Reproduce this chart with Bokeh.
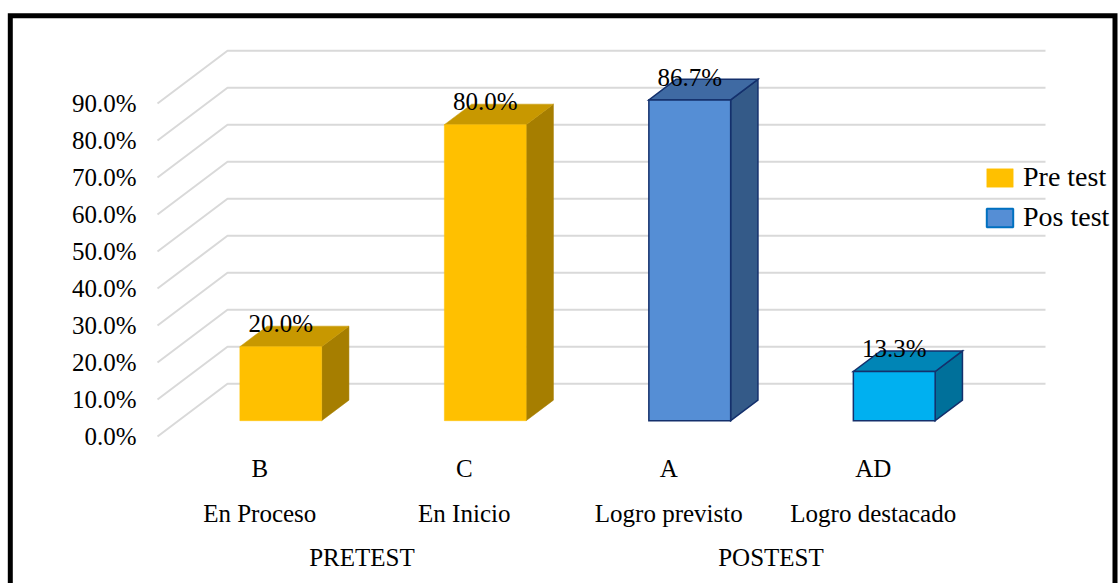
from bokeh.plotting import figure
from bokeh.models import Range1d, Legend, LegendItem, ColumnDataSource
from bokeh.core.properties import value
from bokeh.embed import file_html
from bokeh.resources import INLINE

# ---- data -------------------------------------------------------------
codes = ["B", "C", "A", "AD"]
levels = ["En Proceso", "En Inicio", "Logro previsto", "Logro destacado"]
groups = ["PRETEST", "POSTEST"]
group_sizes = [2, 2]
series_names = ["Pre test", "Pos test"]
bar_series = [0, 0, 1, 1]
percent = [20.0, 80.0, 86.7, 13.3]
y_ticks = [0, 10, 20, 30, 40, 50, 60, 70, 80, 90]
y_tick_labels = ["0.0%", "10.0%", "20.0%", "30.0%", "40.0%",
                 "50.0%", "60.0%", "70.0%", "80.0%", "90.0%"]

# ---- styling ----------------------------------------------------------
face_colors = ["#FFC000", "#FFC000", "#558ED5", "#00B0F0"]
top_colors = ["#C89800", "#C89800", "#3F6AA3", "#0085B6"]
side_colors = ["#A67E00", "#A67E00", "#345A88", "#00709A"]
edge_colors = [None, None, "#14306C", "#14306C"]
legend_fill = ["#FFC000", "#558ED5"]
legend_edge = [None, "#0070C0"]
SERIF = "Liberation Serif"
FONT_PX = "25px"

W, H = 1118, 583
ORIGIN_X, ORIGIN_Y = 157.0, 436.0      # front-left corner of the floor, px
PX_PER_CAT, PX_PER_PCT = 204.5, 3.7
DX = 70.0 / PX_PER_CAT                  # oblique depth offset, x units
DY = 52.7 / PX_PER_PCT                  # oblique depth offset, % units
HALF_W = 0.2
FRONT, BACK = 0.30, 0.69                # bar depth within the floor


def ux(px):
    return (px - ORIGIN_X) / PX_PER_CAT


def vy(py):
    return (ORIGIN_Y - py) / PX_PER_PCT


p = figure(width=W, height=H, output_backend="svg", toolbar_location=None,
           x_range=Range1d(ux(0), ux(W)), y_range=Range1d(vy(H), vy(0)),
           x_axis_location=None, y_axis_location=None,
           min_border=0, outline_line_color=None)
p.xgrid.grid_line_color = None
p.ygrid.grid_line_color = None
p.background_fill_color = "white"
p.border_fill_color = "white"

n_cat = len(codes)

# ---- oblique gridlines ------------------------------------------------
grid_xs = [[0, DX, n_cat + DX] for t in y_ticks]
grid_ys = [[t, t + DY, t + DY] for t in y_ticks]
p.multi_line(xs=grid_xs, ys=grid_ys, line_color="#D9D9D9", line_width=2)

# y tick labels
p.text(x=[ux(136)] * len(y_ticks), y=y_ticks, text=y_tick_labels,
       text_font=value(SERIF), text_font_size=FONT_PX, text_color="#000000",
       text_align="right", text_baseline="middle")

# ---- 3D bars ----------------------------------------------------------
xs, ys, fills, edges = [], [], [], []
for i, h in enumerate(percent):
    c = i + 0.5
    x0, x1 = c - HALF_W + FRONT * DX, c + HALF_W + FRONT * DX
    bx0, bx1 = c - HALF_W + BACK * DX, c + HALF_W + BACK * DX
    yb, yt = FRONT * DY, h + FRONT * DY
    byb, byt = BACK * DY, h + BACK * DY
    # side face
    xs.append([x1, bx1, bx1, x1]); ys.append([yb, byb, byt, yt])
    fills.append(side_colors[i]); edges.append(edge_colors[i])
    # top face
    xs.append([x0, x1, bx1, bx0]); ys.append([yt, yt, byt, byt])
    fills.append(top_colors[i]); edges.append(edge_colors[i])
    # front face
    xs.append([x0, x1, x1, x0]); ys.append([yb, yb, yt, yt])
    fills.append(face_colors[i]); edges.append(edge_colors[i])

bars = ColumnDataSource(dict(xs=xs, ys=ys, fill=fills,
                             edge=[e if e else f for e, f in zip(edges, fills)],
                             lw=[1.5 if e else 0.5 for e in edges]))
p.patches(xs="xs", ys="ys", source=bars, fill_color="fill",
          line_color="edge", line_width="lw", line_join="miter")

# value labels above each bar
lab_x = [i + 0.5 + FRONT * DX for i in range(n_cat)]
lab_y = [h + BACK * DY + 0.6 for h in percent]
p.text(x=lab_x, y=lab_y, text=[f"{h:.1f}%" for h in percent],
       text_font=value(SERIF), text_font_size=FONT_PX, text_color="#000000",
       text_align="center", text_baseline="middle")

# ---- category labels (three levels) -----------------------------------
cat_x = [i + 0.5 for i in range(n_cat)]
p.text(x=cat_x, y=[vy(468)] * n_cat, text=codes,
       text_font=value(SERIF), text_font_size=FONT_PX, text_color="#000000",
       text_align="center", text_baseline="middle")
p.text(x=cat_x, y=[vy(513)] * n_cat, text=levels,
       text_font=value(SERIF), text_font_size=FONT_PX, text_color="#000000",
       text_align="center", text_baseline="middle")
grp_x, start = [], 0
for g in group_sizes:
    grp_x.append(start + g / 2.0)
    start += g
p.text(x=grp_x, y=[vy(557)] * len(groups), text=groups,
       text_font=value(SERIF), text_font_size=FONT_PX, text_color="#000000",
       text_align="center", text_baseline="middle")

# ---- chart border -----------------------------------------------------
p.line(x=[ux(9.8), ux(9.8), ux(1114.5), ux(1114.5)],
       y=[vy(H + 10), vy(15.3), vy(15.3), vy(H + 10)],
       line_color="black", line_width=5, line_join="miter")

# ---- legend (swatch-only renderers, nothing drawn in the plot area) ----
items = []
nan = float("nan")
for k, name in enumerate(series_names):
    src = ColumnDataSource(dict(xs=[[nan, nan, nan]], ys=[[nan, nan, nan]]))
    r = p.patches(xs="xs", ys="ys", source=src, fill_color=legend_fill[k],
                  line_color=legend_edge[k] if legend_edge[k] else legend_fill[k],
                  line_width=2 if legend_edge[k] else 0.5)
    items.append(LegendItem(label=name, renderers=[r], index=0))

legend = Legend(items=items, location=(983, 350), orientation="vertical",
                glyph_width=33, glyph_height=23, label_standoff=7,
                spacing=8, padding=0, margin=0,
                label_text_font=SERIF, label_text_font_size="28px",
                label_text_color="#000000", border_line_color=None,
                background_fill_alpha=0)
p.add_layout(legend)

open("out.html", "w").write(file_html(p, INLINE))
